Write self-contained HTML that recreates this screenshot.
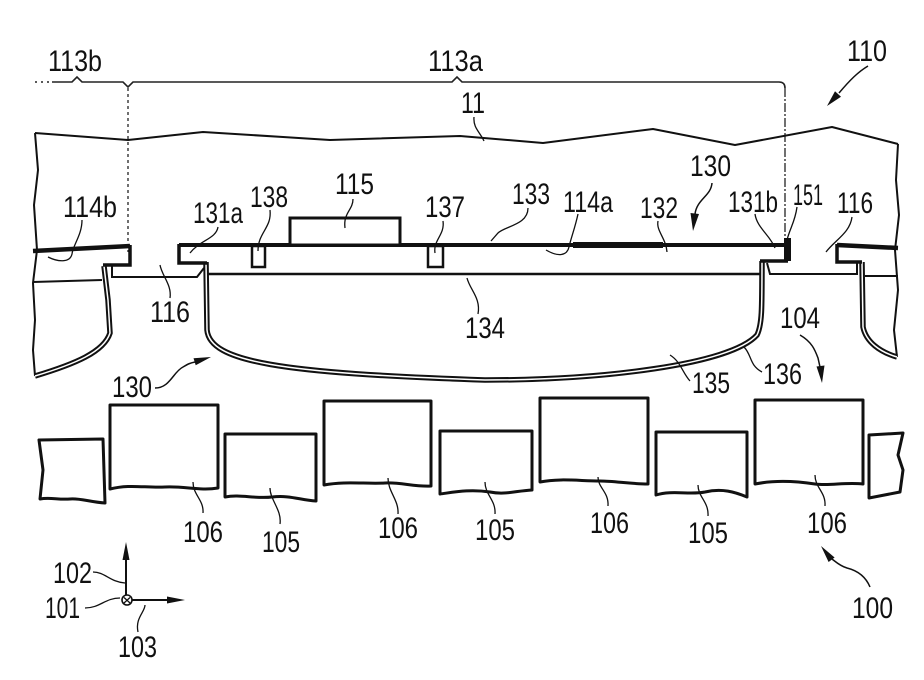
<!DOCTYPE html>
<html>
<head>
<meta charset="utf-8">
<style>
  html,body{margin:0;padding:0;background:#fff;}
  svg{display:block;}
  text{font-family:"Liberation Sans",sans-serif;font-size:30px;fill:#111;}
</style>
</head>
<body>
<svg width="924" height="680" viewBox="0 0 924 680" xmlns="http://www.w3.org/2000/svg">
<rect width="924" height="680" fill="#fff"/>

<!-- Dimension line -->
<g fill="none" stroke="#222" stroke-width="1.6">
  <path d="M35,82 L52,82" stroke-dasharray="2,4"/>
  <path d="M52,82 L72,82 L77,77 L82,82 L123,82 L128,87 L133,82 L452,82 L457,77 L462,82 L779,82 Q785,82 785,88"/>
  <path d="M128,88 L128,252" stroke-dasharray="3,3" stroke-width="1.3"/>
  <path d="M785,88 L785,240" stroke-dasharray="9,2,2,2" stroke-width="1.3"/>
</g>

<!-- Body 110 outline -->
<g fill="none" stroke="#111" stroke-width="2" stroke-linejoin="round">
  <path d="M35,133 L128,140 L203,132 L283,137 L330,140 L460,136 L543,143 L653,129 L735,145 L832,127 L898,144"/>
  <path d="M35,133 L38,170 L34,205 L37,250 L33,283 L35,320 L33,350 L35,376"/>
  <path d="M898,144 L896,180 L899,215 L895,250 L898,290 L894,330 L897,357"/>
  <!-- thin lower edges of layer -->
  <path d="M33,282 L102,280"/>
  <path d="M865,276 L898,276"/>
</g>

<!-- Left and right side walls (double line) -->
<g fill="none" stroke-linejoin="round">
  <path d="M104,266 L108,300 L110,333 C 104,352 75,364 35,376" stroke="#111" stroke-width="5.5"/>
  <path d="M104,266 L108,300 L110,333 C 104,352 75,364 35,376" stroke="#fff" stroke-width="1.5"/>
  <path d="M862,262 L863,327 C 866,342 880,352 897,357" stroke="#111" stroke-width="5.5"/>
  <path d="M862,262 L863,327 C 866,342 880,352 897,357" stroke="#fff" stroke-width="1.5"/>
</g>

<!-- Layers 114b / right layer -->
<g fill="none" stroke="#111" stroke-linejoin="miter">
  <path d="M33,251 L130,246" stroke-width="4.5"/>
  <path d="M130,245 L130,265 L103,265" stroke-width="3.5"/>
  <path d="M112,266 L112,277 L197,277 L204,268" stroke-width="2"/>
  <path d="M837,245 L898,248" stroke-width="4.5"/>
  <path d="M837,244 L837,262 L862,262" stroke-width="3.5"/>
  <path d="M767,263 L770,274 L857,274 L857,262" stroke-width="2"/>
</g>

<!-- Element 130 -->
<g fill="none" stroke-linejoin="round">
  <path d="M206,262 L207,330 C 210,362 280,373 485,380 C 600,380 730,365 757,335 C 762,325 762,310 762,261" stroke="#111" stroke-width="5.5"/>
  <path d="M206,262 L207,330 C 210,362 280,373 485,380 C 600,380 730,365 757,335 C 762,325 762,310 762,261" stroke="#fff" stroke-width="1.5"/>
</g>
<g fill="none" stroke="#111">
  <path d="M179,245 L786,245" stroke-width="4"/>
  <path d="M573,245 L663,245" stroke-width="6"/>
  <path d="M179,244 L179,263 L207,263" stroke-width="3.5"/>
  <path d="M788,261 L760,261" stroke-width="3.5"/>
  <path d="M208,274 L761,274" stroke-width="2.5"/>
</g>
<rect x="784" y="238" width="7" height="23" fill="#111"/>
<rect x="290" y="218" width="110" height="27" fill="#fff" stroke="#111" stroke-width="3"/>
<rect x="252" y="246" width="13" height="21" fill="#fff" stroke="#111" stroke-width="2.5"/>
<rect x="428" y="246" width="15" height="21" fill="#fff" stroke="#111" stroke-width="2.5"/>

<!-- Bottom boxes -->
<g fill="#fff" stroke="#111" stroke-width="3" stroke-linejoin="round">
  <path d="M39,440 L103,439 L105,503 C 90,502 80,498 70,499 C 58,500 50,497 40,499 L43,470 L39,440 Z"/>
  <path d="M110,405 L218,405 L218,488 C 200,491 185,486 165,487 C 145,488 130,484 110,489 Z"/>
  <path d="M225,434 L316,434 L316,501 C 300,500 290,495 272,497 C 255,499 240,494 225,497 Z"/>
  <path d="M324,401 L431,401 L431,486 C 415,487 400,482 385,483 C 365,484 345,481 324,485 Z"/>
  <path d="M440,431 L532,431 L532,490 C 515,491 505,495 490,492 C 470,489 455,492 440,494 Z"/>
  <path d="M540,398 L648,398 L648,484 C 630,484 615,481 600,481 C 580,481 560,478 540,482 Z"/>
  <path d="M656,432 L747,432 L747,497 C 735,492 722,488 705,492 C 690,495 672,490 656,495 Z"/>
  <path d="M755,400 L863,400 L863,484 C 845,482 830,486 815,484 C 795,481 775,480 755,484 Z"/>
  <path d="M869,435 L903,433 L898,455 L903,470 L900,492 L869,498 Z"/>
</g>

<!-- Axes -->
<g stroke="#111" fill="none" stroke-width="2">
  <path d="M126,595 L126,556"/>
  <path d="M132,600 L170,600"/>
  <circle cx="127" cy="600" r="5" stroke-width="1.6"/>
  <path d="M124,597.5 L130,603 M130,597.5 L124,603" stroke-width="1.3"/>
</g>
<polygon points="126,542 122.5,560 129.5,560" fill="#111"/>
<polygon points="185,600 167,596.5 167,603.5" fill="#111"/>

<!-- Arrows -->
<g fill="none" stroke="#111" stroke-width="1.5">
  <path d="M868,66 C 858,72 850,80 839,93"/>
  <path d="M712,183 C 711,196 697,199 695,214"/>
  <path d="M155,388 C 170,388 173,372 183,367 C 188,364 190,363 195,362"/>
  <path d="M800,335 C 812,342 815,350 818,358 L820,367"/>
  <path d="M870,587 C 865,575 855,570 847,568 C 840,566 836,562 832,559"/>
</g>
<g fill="#111">
  <polygon points="827,106 841,96.7 835,91.3"/>
  <polygon points="693,231 690.5,213 699,214"/>
  <polygon points="211,357 195.7,365.2 193.5,358.2"/>
  <polygon points="822,383 816.5,366.5 824.5,365.5"/>
  <polygon points="821,546 834.6,557.5 828.6,562"/>
</g>

<!-- Leaders -->
<g fill="none" stroke="#111" stroke-width="1.3">
  <path d="M474,117 C 473,128 480,132 484,141"/>
  <path d="M528,208 C 528,225 505,226 498,233 L491,241"/>
  <path d="M578,214 C 575,228 571,238 569,247 C 567,256 558,257 546,250"/>
  <path d="M658,221 C 656,231 666,238 667,252"/>
  <path d="M755,214 C 757,228 770,235 775,248"/>
  <path d="M797,207 C 795,222 790,228 787,240"/>
  <path d="M852,217 C 850,233 835,240 826,252"/>
  <path d="M353,199 C 353,210 343,213 345,228"/>
  <path d="M270,210 C 272,228 258,232 258,251"/>
  <path d="M443,221 C 445,235 433,240 435,253"/>
  <path d="M218,227 C 216,239 200,240 190,253"/>
  <path d="M82,220 C 82,235 73,245 72,254 C 70,263 58,262 48,257"/>
  <path d="M170,298 C 172,285 162,276 160,265"/>
  <path d="M478,314 C 481,298 470,290 467,278"/>
  <path d="M690,381 C 682,372 681,362 670,355"/>
  <path d="M762,372 C 749,365 752,355 744,347"/>
  <path d="M203,513 C 204,500 193,495 193,482"/>
  <path d="M280,524 C 282,510 270,500 270,488"/>
  <path d="M398,514 C 399,500 388,492 388,478"/>
  <path d="M495,514 C 496,500 485,495 485,482"/>
  <path d="M608,506 C 609,492 598,488 598,477"/>
  <path d="M708,516 C 709,502 698,497 698,485"/>
  <path d="M825,506 C 826,492 815,488 815,475"/>
  <path d="M93,572 C 105,572 110,582 125,583"/>
  <path d="M85,608 C 100,608 105,598 120,598"/>
  <path d="M138,632 C 135,618 145,612 145,605"/>
</g>

<!-- Labels -->
<g>
  <text x="48" y="71" textLength="54" lengthAdjust="spacingAndGlyphs">113b</text>
  <text x="428" y="71" textLength="55" lengthAdjust="spacingAndGlyphs">113a</text>
  <text x="847" y="61" textLength="40" lengthAdjust="spacingAndGlyphs">110</text>
  <text x="461" y="113" textLength="24" lengthAdjust="spacingAndGlyphs">11</text>
  <text x="690" y="176" textLength="41" lengthAdjust="spacingAndGlyphs">130</text>
  <text x="512" y="204" textLength="38" lengthAdjust="spacingAndGlyphs">133</text>
  <text x="563" y="212" textLength="50" lengthAdjust="spacingAndGlyphs">114a</text>
  <text x="640" y="218" textLength="38" lengthAdjust="spacingAndGlyphs">132</text>
  <text x="728" y="212" textLength="50" lengthAdjust="spacingAndGlyphs">131b</text>
  <text x="793" y="205" textLength="30" lengthAdjust="spacingAndGlyphs">151</text>
  <text x="837" y="213" textLength="36" lengthAdjust="spacingAndGlyphs">116</text>
  <text x="335" y="194" textLength="39" lengthAdjust="spacingAndGlyphs">115</text>
  <text x="250" y="207" textLength="38" lengthAdjust="spacingAndGlyphs">138</text>
  <text x="425" y="217" textLength="40" lengthAdjust="spacingAndGlyphs">137</text>
  <text x="193" y="223" textLength="50" lengthAdjust="spacingAndGlyphs">131a</text>
  <text x="63" y="217" textLength="54" lengthAdjust="spacingAndGlyphs">114b</text>
  <text x="150" y="322" textLength="40" lengthAdjust="spacingAndGlyphs">116</text>
  <text x="465" y="338" textLength="40" lengthAdjust="spacingAndGlyphs">134</text>
  <text x="780" y="328" textLength="40" lengthAdjust="spacingAndGlyphs">104</text>
  <text x="112" y="397" textLength="40" lengthAdjust="spacingAndGlyphs">130</text>
  <text x="692" y="393" textLength="38" lengthAdjust="spacingAndGlyphs">135</text>
  <text x="763" y="384" textLength="39" lengthAdjust="spacingAndGlyphs">136</text>
  <text x="183" y="542" textLength="40" lengthAdjust="spacingAndGlyphs">106</text>
  <text x="262" y="552" textLength="38" lengthAdjust="spacingAndGlyphs">105</text>
  <text x="378" y="538" textLength="40" lengthAdjust="spacingAndGlyphs">106</text>
  <text x="475" y="540" textLength="40" lengthAdjust="spacingAndGlyphs">105</text>
  <text x="590" y="533" textLength="39" lengthAdjust="spacingAndGlyphs">106</text>
  <text x="688" y="543" textLength="40" lengthAdjust="spacingAndGlyphs">105</text>
  <text x="807" y="533" textLength="40" lengthAdjust="spacingAndGlyphs">106</text>
  <text x="852" y="618" textLength="41" lengthAdjust="spacingAndGlyphs">100</text>
  <text x="53" y="583" textLength="39" lengthAdjust="spacingAndGlyphs">102</text>
  <text x="45" y="618" textLength="35" lengthAdjust="spacingAndGlyphs">101</text>
  <text x="118" y="657" textLength="39" lengthAdjust="spacingAndGlyphs">103</text>
</g>
</svg>
</body>
</html>
